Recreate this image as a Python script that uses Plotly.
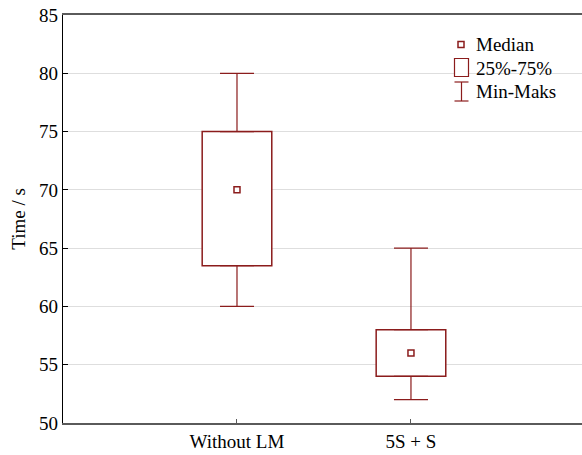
import plotly.graph_objects as go

categories = ["Without LM", "5S + S"]
minimum = [60, 52]
q1 = [63.5, 54]
median = [70, 56]
q3 = [75, 58]
maximum = [80, 65]
y_ticks = [50, 55, 60, 65, 70, 75, 80, 85]

RED = "#8b1c1c"
FONT = "Liberation Serif"
FS = 19

fig = go.Figure()

# boxes (25%-75%)
fig.add_trace(go.Bar(
    x=categories, y=[b - a for a, b in zip(q1, q3)], base=q1,
    width=0.4, marker=dict(color="white", line=dict(color=RED, width=1.5)),
    showlegend=False, hoverinfo="skip"))

# upper whiskers
fig.add_trace(go.Scatter(
    x=categories, y=q3, mode="markers", marker=dict(size=1, opacity=0),
    error_y=dict(type="data", symmetric=False,
                 array=[b - a for a, b in zip(q3, maximum)],
                 arrayminus=[0, 0], color=RED, thickness=1.2, width=17),
    showlegend=False, hoverinfo="skip"))
# lower whiskers
fig.add_trace(go.Scatter(
    x=categories, y=q1, mode="markers", marker=dict(size=1, opacity=0),
    error_y=dict(type="data", symmetric=False,
                 array=[0, 0],
                 arrayminus=[a - b for a, b in zip(q1, minimum)],
                 color=RED, thickness=1.2, width=17),
    showlegend=False, hoverinfo="skip"))
# medians
fig.add_trace(go.Scatter(
    x=categories, y=median, mode="markers",
    marker=dict(symbol="square-open", size=6, color=RED, line=dict(width=1.5)),
    showlegend=False, hoverinfo="skip"))

# manual legend (pixel -> paper)
L, R, T, B = 63, 582, 15, 423
def px(x):
    return (x - L) / (R - L)
def py(y):
    return (B - y) / (B - T)

shapes = [
    dict(type="rect", xref="paper", yref="paper", x0=px(458), x1=px(464), y0=py(47.5), y1=py(41.5),
         line=dict(color=RED, width=1.5), fillcolor="white"),
    dict(type="rect", xref="paper", yref="paper", x0=px(454.5), x1=px(468.5), y0=py(76.5), y1=py(58.5),
         line=dict(color=RED, width=1.2), fillcolor="white"),
    dict(type="line", xref="paper", yref="paper", x0=px(461.5), x1=px(461.5), y0=py(82), y1=py(101),
         line=dict(color=RED, width=1.2)),
    dict(type="line", xref="paper", yref="paper", x0=px(454.5), x1=px(468.5), y0=py(82), y1=py(82),
         line=dict(color=RED, width=1.2)),
    dict(type="line", xref="paper", yref="paper", x0=px(454.5), x1=px(468.5), y0=py(101), y1=py(101),
         line=dict(color=RED, width=1.2)),
]
annotations = []
for label, yy in [("Median", 45), ("25%-75%", 68), ("Min-Maks", 91)]:
    annotations.append(dict(text=label, xref="paper", yref="paper", x=px(474), y=py(yy),
                            xanchor="left", yanchor="middle", showarrow=False,
                            font=dict(family=FONT, size=FS, color="black")))

fig.update_layout(
    width=582, height=455,
    margin=dict(l=L, r=0, t=T, b=455 - B),
    paper_bgcolor="white", plot_bgcolor="white",
    font=dict(family=FONT, size=FS, color="black"),
    shapes=shapes, annotations=annotations,
    showlegend=False,
    xaxis=dict(type="category", range=[-1, 1.983], showgrid=False,
               showline=True, linecolor="#5a5a5a", linewidth=1.5, mirror=True,
               ticks="inside", ticklen=4, tickcolor="#5a5a5a",
               tickfont=dict(family=FONT, size=FS), zeroline=False),
    yaxis=dict(range=[50, 85], tickvals=y_ticks, showgrid=True, gridcolor="#dedede", gridwidth=1,
               showline=True, linecolor="black", linewidth=1.2,
               ticks="inside", ticklen=5, tickcolor="black",
               tickfont=dict(family=FONT, size=FS), zeroline=False,
               title=dict(text="Time / s", font=dict(family=FONT, size=FS), standoff=8)),
)

fig.write_html("out.html", config={"displayModeBar": False},
               post_script="document.body.style.margin='0';")
